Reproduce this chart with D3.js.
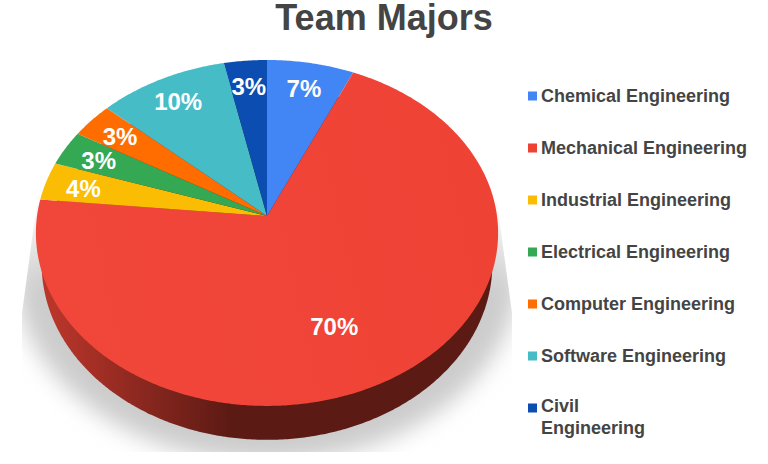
<!DOCTYPE html>
<html><head><meta charset="utf-8">
<script src="https://cdn.jsdelivr.net/npm/d3@7"></script>
<style>html,body{margin:0;padding:0;background:#fff}svg{display:block}</style>
</head><body><svg id="c" width="768" height="464"></svg>
<script>
const title = "Team Majors";
const categories = ["Chemical Engineering","Mechanical Engineering","Industrial Engineering","Electrical Engineering","Computer Engineering","Software Engineering","Civil Engineering"];
const values = [6.7,69.9,3.55,3.3,3.3,10,3.3];
const colors = ["#4285f4","#ee4235","#fbbc04","#34a853","#ff6d01","#46bdc6","#0b4db0"];

const font = "'Liberation Sans',Arial,sans-serif";
const svg = d3.select("#c");
const cx=267, cy=216, R=230, H=171.3, k=0.098;
// point on the pie plane -> perspective screen position
const pt=(a,r=1,dy=0,sx=1,sy=1)=>{
  const u=Math.sin(a)*r, v=Math.cos(a)*r, w=1+k*v;
  return [cx+sx*R*u/w, cy+dy-sy*H*v/w];
};
const line=d3.line();
const defs=svg.append("defs");
defs.append("filter").attr("id","sh").attr("x","-20%").attr("y","-20%").attr("width","140%").attr("height","140%")
  .append("feGaussianBlur").attr("stdDeviation",11);
defs.append("clipPath").attr("id","shc").append("path")
  .attr("d",line([[38,195],[22,313],[22,452],[512,452],[512,313],[496,195]])+"Z");
const sg=defs.append("linearGradient").attr("id","shade").attr("gradientUnits","userSpaceOnUse")
  .attr("x1",0).attr("x2",0).attr("y1",195).attr("y2",290);
sg.append("stop").attr("offset",0).attr("stop-color","#fff");
sg.append("stop").attr("offset",1).attr("stop-color","#ccc");
const g=defs.append("linearGradient").attr("id","side").attr("gradientUnits","userSpaceOnUse")
  .attr("x1",55).attr("x2",230).attr("y1",0).attr("y2",0);
g.append("stop").attr("offset",0).attr("stop-color","#b8352a");
g.append("stop").attr("offset",1).attr("stop-color","#5c1a14");
const tg=defs.append("linearGradient").attr("id","top").attr("gradientUnits","userSpaceOnUse")
  .attr("x1",40).attr("x2",498).attr("y1",300).attr("y2",200);
tg.append("stop").attr("offset",0).attr("stop-color","#f1473a");
tg.append("stop").attr("offset",1).attr("stop-color",colors[1]);

const full=d3.range(0,2*Math.PI+0.005,0.01);
// shadow
svg.append("g").attr("clip-path","url(#shc)").append("ellipse")
  .attr("cx",267).attr("cy",272).attr("rx",252).attr("ry",190)
  .attr("fill","url(#shade)").attr("filter","url(#sh)");
// extruded side
svg.append("path").attr("d",line(full.map(a=>pt(a,1,30.7,0.975,1.017)))+"Z").attr("fill","url(#side)");
// slices
const arcs=d3.pie().sort(null).value(d=>d)(values);
arcs.forEach((d,i)=>{
  const as=d3.range(d.startAngle,d.endAngle,0.01).concat([d.endAngle]);
  svg.append("path").attr("d",line([[cx,cy],...as.map(a=>pt(a))])+"Z")
    .attr("fill",i===1?"url(#top)":colors[i]);
});
// labels
const total=d3.sum(values), fmt=d3.format(".0%");
arcs.forEach((d,i)=>{
  const big=d.endAngle-d.startAngle>Math.PI;
  const mid=(d.startAngle+d.endAngle)/2+(big?0.096:0);
  const p=pt(mid,big?0.66:0.83);
  svg.append("text").attr("x",p[0]).attr("y",p[1]).attr("dy","0.4em").attr("text-anchor","middle")
    .attr("font-family",font).attr("font-weight","bold").attr("font-size",24).attr("fill","#fff")
    .text(fmt(d.value/total));
});
// title
svg.append("text").attr("x",384).attr("y",30).attr("text-anchor","middle").attr("font-family",font)
  .attr("font-weight","bold").attr("font-size",36).attr("fill","#444").text(title);
// legend
const ly=d3.scalePoint().domain(categories).range([96,408]);
categories.forEach((c,i)=>{
  const y=ly(c);
  svg.append("rect").attr("x",528).attr("y",y-4.5).attr("width",9).attr("height",9).attr("fill",colors[i]);
  const t=svg.append("text").attr("font-family",font).attr("font-weight","bold").attr("font-size",18).attr("fill","#444");
  const words=c.split(" ");
  if(i===categories.length-1){
    t.append("tspan").attr("x",541).attr("y",y+4).text(words[0]);
    t.append("tspan").attr("x",541).attr("y",y+26).text(words[1]);
  } else t.attr("x",541).attr("y",y+6).text(c);
});
</script></body></html>
